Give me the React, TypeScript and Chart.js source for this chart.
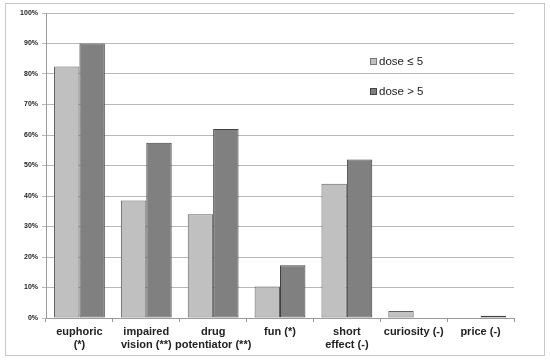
import React, { useEffect, useRef } from "react";
import { Chart, registerables } from "chart.js";

Chart.register(...registerables);

const categories: (string | string[])[] = [
  ["euphoric", "(*)"],
  ["impaired", "vision (**)"],
  ["drug", "potentiator (**)"],
  "fun (*)",
  ["short", "effect (-)"],
  "curiosity (-)",
  "price (-)",
];
const doseLow = [82.5, 38.5, 34, 10.3, 44, 2.3, 0];
const doseHigh = [90, 57.5, 62, 17.3, 52, 0, 0.7];
const seriesNames = ["dose \u2264 5", "dose > 5"];

export default function App() {
  const ref = useRef<HTMLCanvasElement | null>(null);
  useEffect(() => {
    document.body.style.margin = "0";
    const canvas = ref.current!;
    const frame = {
      id: "frame",
      beforeDraw(chart: any) {
        const ctx = chart.ctx;
        ctx.save();
        ctx.fillStyle = "#fff";
        ctx.fillRect(0, 0, chart.width, chart.height);
        ctx.strokeStyle = "#c8c8c8";
        ctx.lineWidth = 1;
        ctx.strokeRect(5.5, 3.5, 539, 352);
        ctx.restore();
      },
    };
    const legend = {
      id: "customLegend",
      afterDraw(chart: any) {
        const ctx = chart.ctx;
        const fills = ["#c0c0c0", "#808080"];
        const strokes = ["#777", "#444"];
        const ys = [61, 91];
        ctx.save();
        ctx.font = "11.5px 'Liberation Sans', Arial, sans-serif";
        ctx.textBaseline = "middle";
        for (let i = 0; i < 2; i++) {
          ctx.fillStyle = fills[i];
          ctx.fillRect(370, ys[i] - 3, 6, 6);
          ctx.strokeStyle = strokes[i];
          ctx.strokeRect(370.5, ys[i] - 2.5, 6, 6);
          ctx.fillStyle = "#222";
          ctx.fillText(seriesNames[i], 379, ys[i] + 0.5);
        }
        ctx.restore();
      },
    };
    const chart = new Chart(canvas, {
      type: "bar",
      data: {
        labels: categories,
        datasets: [
          {
            label: seriesNames[0],
            data: doseLow,
            backgroundColor: "#c0c0c0",
            borderColor: "#606060",
            borderWidth: 1,
            borderSkipped: false,
            categoryPercentage: 0.76,
            barPercentage: 1,
          },
          {
            label: seriesNames[1],
            data: doseHigh,
            backgroundColor: "#808080",
            borderColor: "#404040",
            borderWidth: 1,
            borderSkipped: false,
            categoryPercentage: 0.76,
            barPercentage: 1,
          },
        ],
      },
      options: {
        animation: false,
        responsive: false,
        layout: { padding: { top: 13, right: 36, left: 0, bottom: 0 } },
        plugins: { legend: { display: false }, tooltip: { enabled: false } },
        scales: {
          x: {
            grid: {
              offset: true,
              drawOnChartArea: false,
              drawTicks: true,
              tickLength: 4,
              color: "#999",
            },
            border: { color: "#999" },
            ticks: {
              color: "#222",
              font: { family: "'Liberation Sans', Arial, sans-serif", size: 11, weight: "bold", lineHeight: 1.2 },
              maxRotation: 0,
              autoSkip: false,
              padding: 3,
            },
            afterFit(s: any) {
              s.height = 44;
            },
          },
          y: {
            min: 0,
            max: 100,
            grid: { color: "#b8b8b8", tickLength: 4, drawTicks: true },
            border: { color: "#999" },
            ticks: {
              stepSize: 10,
              color: "#222",
              padding: 4,
              font: { family: "'Liberation Sans', Arial, sans-serif", size: 7, weight: "bold" },
              callback: (v: any) => v + "%",
            },
            afterFit(s: any) {
              s.width = 46;
            },
          },
        },
      },
      plugins: [frame, legend],
    });
    return () => chart.destroy();
  }, []);
  return <canvas ref={ref} width={550} height={362} style={{ display: "block" }} />;
}
